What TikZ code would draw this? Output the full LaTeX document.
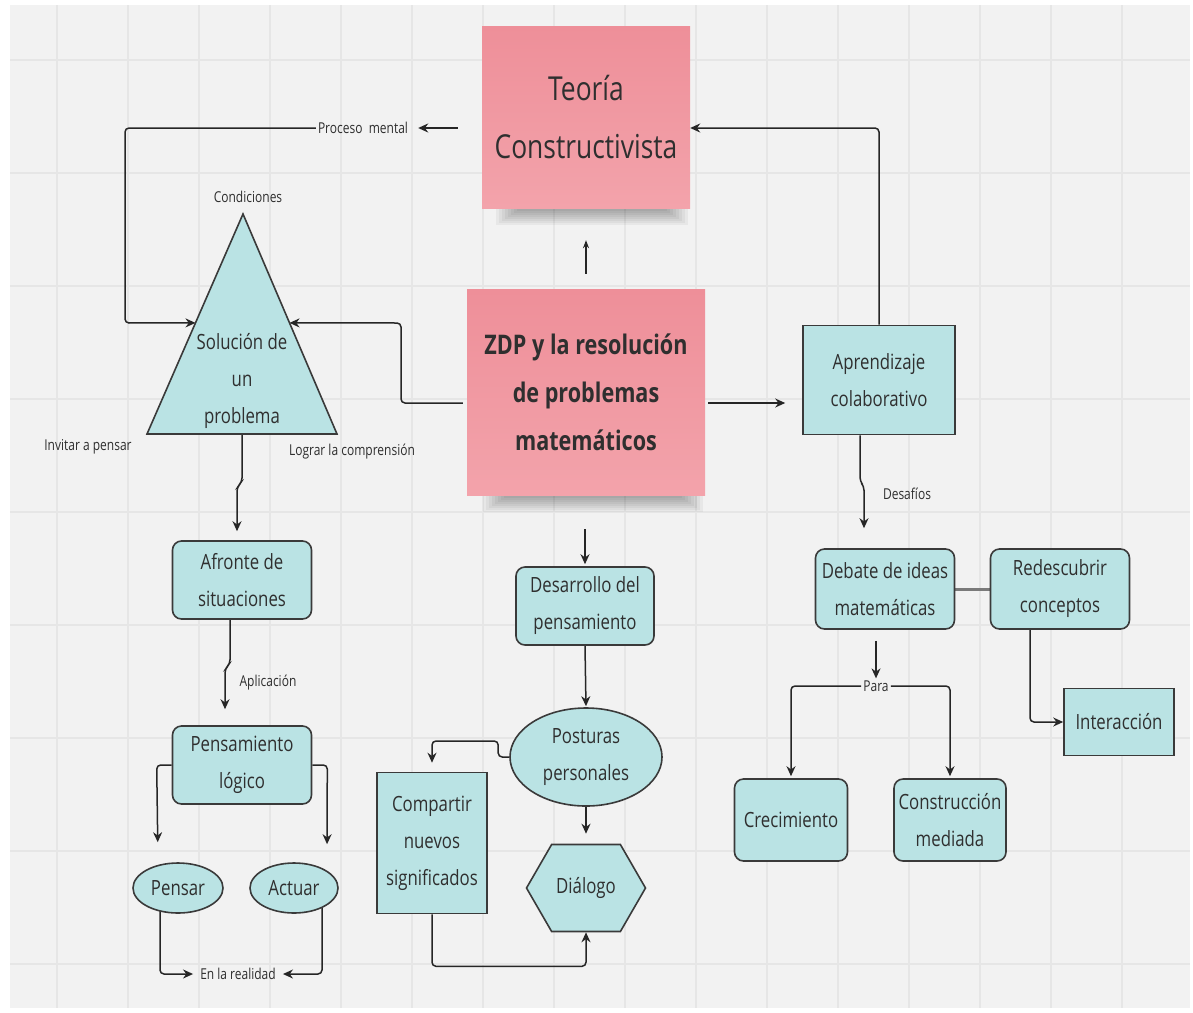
\documentclass[tikz,border=0pt]{standalone}
\usepackage{fontspec}
\setmainfont[FakeStretch=0.8]{Open Sans}
\usetikzlibrary{shapes.geometric,shapes.symbols,arrows.meta,calc}
\pgfdeclarelayer{paper}
\pgfdeclarelayer{edges}
\pgfsetlayers{paper,edges,main}
\definecolor{paperc}{HTML}{F2F2F2}
\definecolor{gridc}{HTML}{E6E6E6}
\definecolor{tealfill}{HTML}{BAE3E4}
\definecolor{pinktop}{HTML}{EE8F99}
\definecolor{pinkbot}{HTML}{F3A3AB}
\definecolor{ink}{HTML}{3A3A3A}
\definecolor{wirec}{HTML}{262626}
\definecolor{txt}{HTML}{2F2F2F}
\definecolor{linkc}{HTML}{7A7A7A}
\begin{document}
\begin{tikzpicture}[x=1pt,y=-1pt,
  box/.style={draw=ink, line width=1.6pt, fill=tealfill, text=txt, align=center,
    font=\fontsize{21}{37}\selectfont, inner sep=0pt},
  rbox/.style={box, rounded corners=9pt},
  oval/.style={box, ellipse},
  lbl/.style={text=txt, font=\fontsize{15}{18}\selectfont, inner sep=2pt},
  wire/.style={draw=wirec, line width=1.5pt, rounded corners=4pt},
  arr/.style={wire, -{Stealth[length=10pt,width=9pt]}},
  sticky/.style={top color=pinktop, bottom color=pinkbot, draw=none, text=txt,
    align=center, inner sep=0pt},
]
% paper with grid
\begin{pgfonlayer}{paper}
\fill[white] (0,0) rectangle (1193,1012);
\fill[paperc] (10,5) rectangle (1190,1008);
\foreach \gx in {57,128,...,1190} \draw[gridc, line width=1.2pt] (\gx,5) -- (\gx,1008);
\foreach \gy in {60,173,...,1000} \draw[gridc, line width=1.2pt] (10,\gy) -- (1190,\gy);
\end{pgfonlayer}

% sticky notes
\node[sticky, minimum width=208pt, minimum height=182pt, font=\fontsize{33}{58}\selectfont]
  (teo) at (586,117) {Teoría\\Constructivista};
\node[sticky, minimum width=238pt, minimum height=206pt, font=\bfseries\fontsize{27}{48}\selectfont]
  (zdp) at (586,392) {ZDP y la resolución\\de problemas\\matemáticos};

% triangle
\coordinate (tA) at (243,214);
\coordinate (tL) at (147,434);
\coordinate (tR) at (337,434);
\draw[draw=ink, line width=1.6pt, fill=tealfill, line join=miter] (tA) -- (tL) -- (tR) -- cycle;
\node[align=center, text=txt, font=\fontsize{21}{37}\selectfont] (sol) at (242,381) {Solución de\\un\\problema};

% labels
\node[lbl] (cond) at (248,197) {Condiciones};
\node[lbl] (inv) at (88,447) {Invitar a pensar};
\node[lbl] (logr) at (352,452) {Lograr la comprensión};
\node[lbl] (pm) at (363,128) {Proceso\ \ mental};
\node[lbl] (real) at (238,974) {En la realidad};
\node[lbl] (apl) at (268,683) {Aplicación};
\node[lbl] (des) at (907,494) {Desafíos};
\node[lbl] (para) at (876,686) {Para};

% boxes
\node[rbox, minimum width=139pt, minimum height=78pt] (afr) at (242,580) {Afronte de\\situaciones};
\node[rbox, minimum width=139pt, minimum height=78pt] (pl) at (242,765) {Pensamiento\\lógico};
\node[oval, minimum width=90pt, minimum height=50pt] (pen) at (178,888) {Pensar};
\node[oval, minimum width=88pt, minimum height=50pt] (act) at (294,888) {Actuar};
\node[rbox, minimum width=138pt, minimum height=78pt] (dev) at (585,606) {Desarrollo del\\pensamiento};
\node[oval, minimum width=152pt, minimum height=98pt] (pos) at (586,757) {Posturas\\personales};
\node[box, minimum width=110pt, minimum height=141pt] (comp) at (432,843) {Compartir\\nuevos\\significados};
\node[box, shape=signal, signal to=west and east, signal pointer angle=120,
  minimum width=119pt, minimum height=87pt] (dia) at (586,888) {Diálogo};
\node[box, minimum width=152pt, minimum height=109pt] (ap) at (879,380) {Aprendizaje\\colaborativo};
\node[rbox, minimum width=139pt, minimum height=80pt] (deb) at (885,589) {Debate de ideas\\matemáticas};
\node[rbox, minimum width=139pt, minimum height=80pt] (red) at (1060,589) {Redescubrir\\conceptos};
\node[box, minimum width=110pt, minimum height=67pt] (int) at (1119,722) {Interacción};
\node[rbox, minimum width=113pt, minimum height=82pt] (cre) at (791,820) {Crecimiento};
\node[rbox, minimum width=112pt, minimum height=82pt] (con) at (950,820) {Construcción\\mediada};

% soft shadows under the sticky notes
\begin{pgfonlayer}{paper}
\foreach \k in {0,...,7}{
  \fill[black, opacity=0.045] ($(teo.south west)+({14+3*\k},-4)$) rectangle ($(teo.south east)+({-2-3*\k},{17-2*\k})$);
  \fill[black, opacity=0.045] ($(zdp.south west)+({16+3*\k},-4)$) rectangle ($(zdp.south east)+({-2-3*\k},{17-2*\k})$);
}
\end{pgfonlayer}

\coordinate (zdpup) at ($(zdp.north)+(0,-15)$);
\coordinate (teolow) at ($(teo.south)+(0,32)$);
\coordinate (zdpdown) at ($(dev.north)+(0,-37)$);

% connectors
\begin{pgfonlayer}{edges}
\draw[wirec, line width=1.2pt, -{Stealth[length=8pt,width=6pt]}] (zdpup) -- (teolow);
\draw[arr, shorten >=8pt] ([xshift=-24pt,yshift=-11pt]teo.west) -- (pm.east);
\draw[arr] (pm.west) -- (125,128) -- (125,323) -- ($(tA)!0.495!(tL)$);
\draw[arr, shorten <=4pt] ([yshift=-11pt]zdp.west) -- (401,403) -- (401,323) -- ($(tA)!0.495!(tR)$);
\draw[arr, shorten >=9pt] ($(tL)!0.5!(tR)$) -- ++(0,48) -- ++(-5,5) -- ([xshift=-5pt]afr.north);
\draw[arr, shorten >=16pt] ([xshift=-12pt]afr.south) -- ++(0,44) -- ++(-5,5) -- ([xshift=-17pt]pl.north);
\draw[arr, shorten >=20pt] (pl.west) -- ++(-15,0) -- ([xshift=-20pt]pen.north);
\draw[arr, shorten >=18pt] (pl.east) -- ++(15,0) -- ([xshift=33pt]act.north);
\draw[arr, shorten >=5pt] ([xshift=-18pt]pen.center) |- (real.west);
\draw[arr, shorten >=5pt] ([xshift=28pt]act.center) |- (real.east);
\draw[arr, shorten >=2pt] (zdpdown) -- (dev.north);
\draw[arr, shorten >=1pt] (dev.south) -- (pos.north);
\draw[arr, shorten >=9pt] (pos.west) -- ++(-11,0) -- ++(0,-16) -| (comp.north);
\draw[arr, shorten >=10pt] (pos.south) -- (dia.north);
\draw[arr] (comp.south) -- ++(0,52) -| (dia.south);
\draw[arr, shorten <=3pt, shorten >=18pt] ([yshift=-11pt]zdp.east) -- ++(98,0);
\draw[arr] (ap.north) |- ([yshift=-11pt]teo.east);
\draw[arr, shorten >=20pt] ([xshift=-19pt]ap.south) -- ++(0,46) -- ++(4,5) -- ([xshift=-21pt]deb.north);
\draw[linkc, line width=3pt] (deb.east) -- (red.west);
\draw[arr] ([xshift=-9pt,yshift=-11pt]deb.south) -- (para.north);
\draw[arr, shorten >=2pt] (para.west) -| (cre.north);
\draw[arr, shorten >=2pt] (para.east) -| (con.north);
\draw[arr] ([xshift=-30pt]red.south) |- (int.west);
\end{pgfonlayer}
\end{tikzpicture}
\end{document}
